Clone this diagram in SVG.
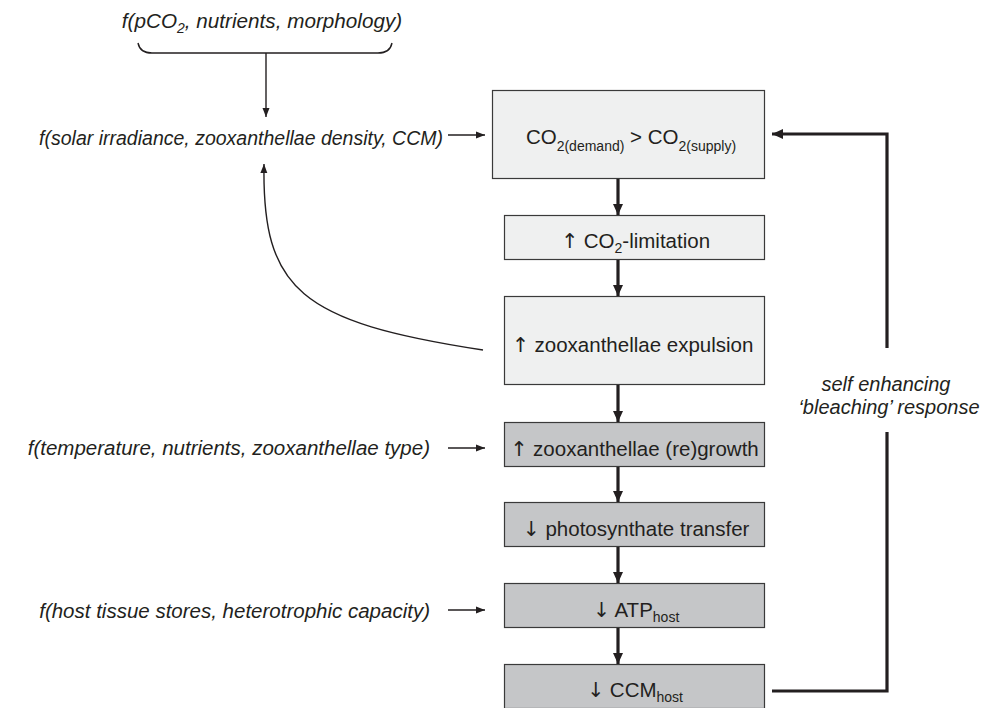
<svg xmlns="http://www.w3.org/2000/svg" width="983" height="708" viewBox="0 0 983 708">
<defs>
<style>
text{font-family:"Liberation Sans",Arial,sans-serif;fill:#231f20}
.lab{font-size:20.5px;font-style:italic}
.bt{font-size:20.5px}
.sub{font-size:14px}
.ar{font-family:"DejaVu Sans",sans-serif;font-weight:normal}
.light{fill:#eff0f0;stroke:#3a3a3a;stroke-width:1.2}
.dark{fill:#c5c6c8;stroke:#3a3a3a;stroke-width:1.2}
.thin{fill:none;stroke:#231f20;stroke-width:1.4}
.thick{fill:none;stroke:#231f20;stroke-width:3.2}
</style>
<marker id="ah" markerUnits="userSpaceOnUse" markerWidth="10" markerHeight="10" viewBox="0 0 10 10" refX="9" refY="5" orient="auto">
<path d="M0,1.5 L9,5 L0,8.5 Z" fill="#231f20"/>
</marker>
<marker id="ahb" markerUnits="userSpaceOnUse" markerWidth="12" markerHeight="12" viewBox="0 0 12 12" refX="11" refY="6" orient="auto">
<path d="M0,1 L11,6 L0,11 Z" fill="#231f20"/>
</marker>
</defs>

<g id="label-pco2">
<text class="lab" x="262" y="28" text-anchor="middle" style="font-size:20.7px">f(pCO<tspan class="sub" dy="5">2</tspan><tspan dy="-5">, nutrients, morphology)</tspan></text>
</g>
<g id="label-solar">
<text class="lab" x="443" y="145" text-anchor="end" style="font-size:19.5px">f(solar irradiance, zooxanthellae density, CCM)</text>
</g>
<g id="label-temp">
<text class="lab" x="430" y="455" text-anchor="end">f(temperature, nutrients, zooxanthellae type)</text>
</g>
<g id="label-host">
<text class="lab" x="430" y="618" text-anchor="end">f(host tissue stores, heterotrophic capacity)</text>
</g>
<g id="label-feedback">
<text class="lab" x="886" y="391" text-anchor="middle" style="font-size:20px">self enhancing</text>
<text class="lab" x="889" y="414" text-anchor="middle" style="font-size:20px">‘bleaching’ response</text>
</g>

<g id="n1">
<rect class="light" x="492.5" y="90.5" width="272" height="88"/>
<text class="bt" x="631" y="144" text-anchor="middle">CO<tspan class="sub" dy="7">2(demand)</tspan><tspan dy="-7"> &gt; CO</tspan><tspan class="sub" dy="7">2(supply)</tspan></text>
</g>
<g id="n2">
<rect class="light" x="504.5" y="215.5" width="260" height="44"/>
<text class="bt" x="635.5" y="248" text-anchor="middle"><tspan class="ar">↑</tspan> CO<tspan class="sub" dy="5">2</tspan><tspan dy="-5">-limitation</tspan></text>
</g>
<g id="n3">
<rect class="light" x="504.5" y="296.5" width="260" height="88"/>
<text class="bt" x="632.5" y="352" text-anchor="middle"><tspan class="ar">↑</tspan> zooxanthellae expulsion</text>
</g>
<g id="n4">
<rect class="dark" x="504.5" y="422.5" width="260" height="44"/>
<text class="bt" x="634.5" y="456" text-anchor="middle"><tspan class="ar">↑</tspan> zooxanthellae (re)growth</text>
</g>
<g id="n5">
<rect class="dark" x="504.5" y="502.5" width="260" height="44"/>
<text class="bt" x="636" y="536" text-anchor="middle"><tspan class="ar">↓</tspan> photosynthate transfer</text>
</g>
<g id="n6">
<rect class="dark" x="504.5" y="583.5" width="260" height="44"/>
<text class="bt" x="636" y="617" text-anchor="middle"><tspan class="ar">↓</tspan> ATP<tspan class="sub" dy="5">host</tspan></text>
</g>
<g id="n7">
<rect class="dark" x="504.5" y="664.5" width="260" height="44"/>
<text class="bt" x="635" y="697" text-anchor="middle"><tspan class="ar">↓</tspan> CCM<tspan class="sub" dy="5">host</tspan></text>
</g>

<g id="connectors">
<path class="thin" d="M138,43 Q140,53 152,53 L378,53 Q390,53 392,43"/>
<path class="thin" d="M266,53 L266,117" marker-end="url(#ah)"/>
<path class="thin" d="M448,135 L485,135" marker-end="url(#ah)"/>
<path class="thin" d="M483,350 C300,322 262,290 264,164" marker-end="url(#ah)"/>
<path class="thin" d="M448,448 L485,448" marker-end="url(#ah)"/>
<path class="thin" d="M448,610 L485,610" marker-end="url(#ah)"/>
<path class="thick" d="M618,179 L618,215" marker-end="url(#ahb)"/>
<path class="thick" d="M618,260 L618,296" marker-end="url(#ahb)"/>
<path class="thick" d="M618,385 L618,422" marker-end="url(#ahb)"/>
<path class="thick" d="M618,467 L618,502" marker-end="url(#ahb)"/>
<path class="thick" d="M618,547 L618,583" marker-end="url(#ahb)"/>
<path class="thick" d="M618,628 L618,664" marker-end="url(#ahb)"/>
<path class="thick" d="M772,691 L887,691 L887,432"/>
<path class="thick" d="M887,348 L887,134 L772,134" marker-end="url(#ahb)"/>
</g>
</svg>
